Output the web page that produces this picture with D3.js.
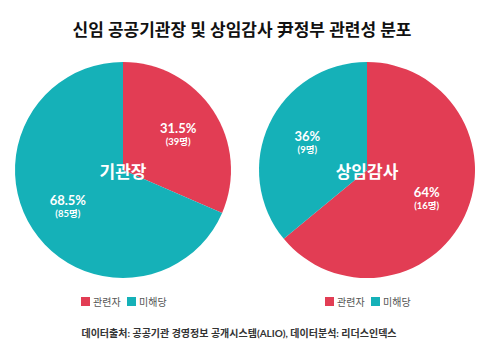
<!DOCTYPE html>
<html>
<head>
<meta charset="utf-8">
<script src="https://cdn.jsdelivr.net/npm/d3@7"></script>
<style>
  body { margin: 0; background: #fff; }
  svg text { font-family: Lato, "Noto Sans CJK KR", sans-serif; }
</style>
</head>
<body>
<svg id="chart" width="488" height="359"></svg>
<script>
// data
const categories = ['관련자', '미해당'];
const groups = ['기관장', '상임감사'];
const pctValues = [[31.5, 68.5], [64, 36]];
const countValues = [[39, 85], [16, 9]];
const pctLabels = [['31.5%', '68.5%'], ['64%', '36%']];

const colors = d3.scaleOrdinal().domain(categories).range(['#e23d54', '#15b1b8']);

const svg = d3.select('#chart');

svg.append('text')
  .attr('x', 242).attr('y', 36)
  .attr('text-anchor', 'middle')
  .attr('font-size', 17).attr('font-weight', 'bold')
  .attr('fill', '#111')
  .text('신임 공공기관장 및 상임감사 尹정부 관련성 분포');

const centers = d3.scalePoint().domain(groups).range([123, 367]);
const radius = 108;

const pie = d3.pie().sort(null).value(d => d.pct);
const arc = d3.arc().innerRadius(0).outerRadius(radius);
const labelArc = d3.arc().innerRadius(132).outerRadius(0);

groups.forEach((g, gi) => {
  const rows = categories.map((c, ci) => ({
    cat: c, pct: pctValues[gi][ci], count: countValues[gi][ci], label: pctLabels[gi][ci]
  }));
  const grp = svg.append('g')
    .attr('transform', `translate(${centers(g)},170)`);

  grp.selectAll('path').data(pie(rows)).enter()
    .append('path')
    .attr('d', arc)
    .attr('fill', d => colors(d.data.cat));

  const lab = grp.selectAll('.lab').data(pie(rows)).enter()
    .append('g').attr('class', 'lab')
    .attr('transform', d => `translate(${labelArc.centroid(d)})`);
  lab.append('text')
    .attr('text-anchor', 'middle').attr('y', -1)
    .attr('font-size', 13).attr('font-weight', 'bold').attr('fill', '#fff')
    .text(d => d.data.label);
  lab.append('text')
    .attr('text-anchor', 'middle').attr('y', 11)
    .attr('font-size', 9.5).attr('font-weight', 'bold').attr('fill', '#fff')
    .text(d => `(${d.data.count}명)`);

  grp.append('text')
    .attr('text-anchor', 'middle').attr('y', 8)
    .attr('font-size', 17).attr('font-weight', 'bold').attr('fill', '#fff')
    .text(g);

  // legend
  const leg = svg.append('g')
    .attr('transform', `translate(${centers(g) - 42},302)`);
  const item = leg.selectAll('g').data(categories).enter()
    .append('g').attr('transform', (d, i) => `translate(${i * 46},0)`);
  item.append('rect')
    .attr('x', 0).attr('y', -5).attr('width', 9).attr('height', 9)
    .attr('fill', d => colors(d));
  item.append('text')
    .attr('x', 12).attr('y', 4)
    .attr('font-size', 10).attr('fill', '#555')
    .text(d => d);
});

svg.append('text')
  .attr('x', 239).attr('y', 337)
  .attr('text-anchor', 'middle')
  .attr('font-size', 10).attr('font-weight', 'bold')
  .attr('fill', '#333')
  .text('데이터출처: 공공기관 경영정보 공개시스템(ALIO), 데이터분석: 리더스인덱스');
</script>
</body>
</html>
